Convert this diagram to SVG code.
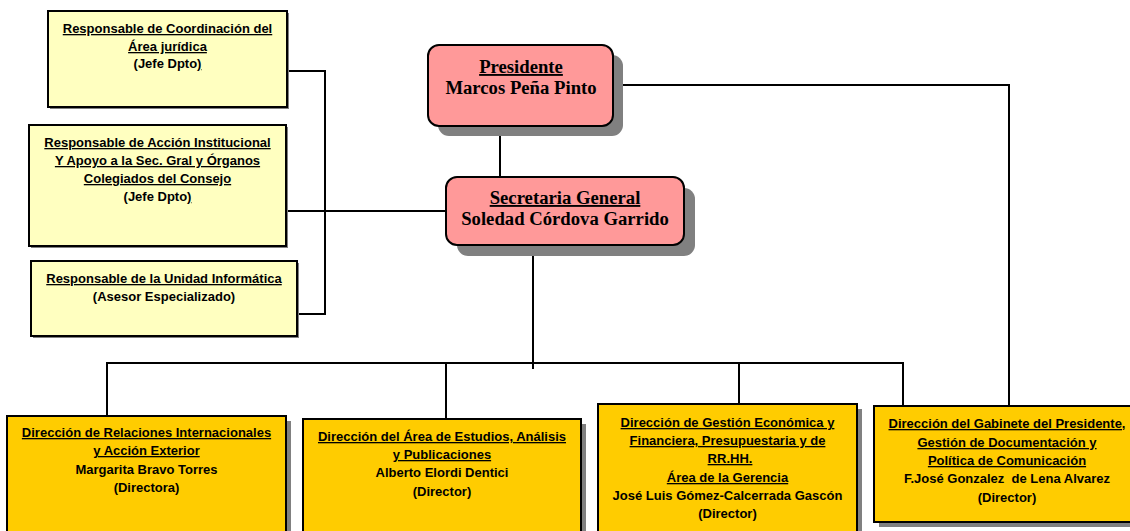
<svg xmlns="http://www.w3.org/2000/svg" width="1130" height="531" viewBox="0 0 1130 531">
<style>
.lt{fill:#FFFFC0;stroke:#000;stroke-width:2}
.gd{fill:#FFCC00;stroke:#000;stroke-width:2}
.pk{fill:#FF9999;stroke:#000;stroke-width:2}
.sh{fill:#808080}
.s{font-family:"Liberation Sans",Arial,sans-serif;font-weight:bold;font-size:13px;fill:#000;text-anchor:middle}
.t{font-family:"Liberation Serif","Times New Roman",serif;font-weight:bold;font-size:18.7px;fill:#000;text-anchor:middle}
.u{text-decoration:underline}
.c{fill:none;stroke:#000;stroke-width:2}
</style>
<rect width="1130" height="531" fill="#fff"/>
<g id="connectors">
<polyline class="c" points="287,71 325,71 325,314 297,314"/>
<line class="c" x1="286" y1="211" x2="446" y2="211"/>
<line class="c" x1="500" y1="126" x2="500" y2="177"/>
<polyline class="c" points="613,85 1009,85 1009,406"/>
<line class="c" x1="533" y1="245" x2="533" y2="369"/>
<line class="c" x1="106" y1="363" x2="904" y2="363"/>
<line class="c" x1="107" y1="363" x2="107" y2="416"/>
<line class="c" x1="446" y1="363" x2="446" y2="419"/>
<line class="c" x1="739" y1="363" x2="739" y2="404"/>
<line class="c" x1="903" y1="363" x2="903" y2="406"/>
</g>
<g id="resp-juridica">
<rect class="sh" x="50" y="13" width="239" height="96"/>
<rect class="lt" x="48" y="11" width="239" height="96"/>
<text class="s u" x="167.5" y="33">Responsable de Coordinación del</text>
<text class="s u" x="167.5" y="51">Área jurídica</text>
<text class="s" x="167.5" y="68">(Jefe Dpto<tspan class="u">)</tspan></text>
</g>
<g id="resp-accion">
<rect class="sh" x="31" y="127" width="257" height="121"/>
<rect class="lt" x="29" y="125" width="257" height="121"/>
<text class="s u" x="157.5" y="147">Responsable de Acción Institucional</text>
<text class="s u" x="157.5" y="165">Y Apoyo a la Sec. Gral y Órganos</text>
<text class="s u" x="157.5" y="183">Colegiados del Consejo</text>
<text class="s" x="157.5" y="201">(Jefe Dpto<tspan class="u">)</tspan></text>
</g>
<g id="resp-informatica">
<rect class="sh" x="33" y="263" width="266" height="75"/>
<rect class="lt" x="31" y="261" width="266" height="75"/>
<text class="s u" x="164" y="283">Responsable de la Unidad Informática</text>
<text class="s" x="164" y="301">(Asesor Especializado)</text>
</g>
<g id="presidente">
<rect class="sh" x="438" y="55" width="185" height="81" rx="11"/>
<rect class="pk" x="428" y="45" width="185" height="81" rx="11"/>
<text class="t u" x="521" y="73">Presidente</text>
<text class="t" x="521" y="94">Marcos Peña Pinto</text>
</g>
<g id="secretaria">
<rect class="sh" x="457" y="188" width="238" height="68" rx="11"/>
<rect class="pk" x="446" y="177" width="238" height="68" rx="11"/>
<text class="t u" x="565" y="204">Secretaria General</text>
<text class="t" x="565" y="225">Soledad Córdova Garrido</text>
</g>
<g id="dir-relaciones">
<rect class="sh" x="12" y="421" width="279" height="130"/>
<rect class="gd" x="7" y="416" width="279" height="130"/>
<text class="s u" x="146.5" y="437">Dirección de Relaciones Internacionales</text>
<text class="s u" x="146.5" y="455">y Acción Exterior</text>
<text class="s" x="146.5" y="474">Margarita Bravo Torres</text>
<text class="s" x="146.5" y="492">(Directora)</text>
</g>
<g id="dir-estudios">
<rect class="sh" x="308" y="424" width="278" height="130"/>
<rect class="gd" x="303" y="419" width="278" height="130"/>
<text class="s u" x="442" y="441">Dirección del Área de Estudios, Análisis</text>
<text class="s u" x="442" y="459">y Publicaciones</text>
<text class="s" x="442" y="477">Alberto Elordi Dentici</text>
<text class="s" x="442" y="496">(Director)</text>
</g>
<g id="dir-gestion">
<rect class="sh" x="603" y="409" width="259" height="140"/>
<rect class="gd" x="598" y="404" width="259" height="140"/>
<text class="s u" x="727.5" y="427">Dirección de Gestión Económica y</text>
<text class="s u" x="727.5" y="445">Financiera, Presupuestaria y de</text>
<text class="s u" x="730" y="463">RR.HH.</text>
<text class="s u" x="727.5" y="482">Área de la Gerencia</text>
<text class="s" x="727.5" y="500">José Luis Gómez-Calcerrada Gascón</text>
<text class="s" x="727.5" y="518">(Director)</text>
</g>
<g id="dir-gabinete">
<rect class="sh" x="879" y="411" width="270" height="116"/>
<rect class="gd" x="874" y="406" width="270" height="116"/>
<text class="s u" x="1007" y="428">Dirección del Gabinete del Presidente,</text>
<text class="s u" x="1007" y="447">Gestión de Documentación y</text>
<text class="s u" x="1007" y="465">Política de Comunicación</text>
<text class="s" x="1007" y="483" xml:space="preserve">F.José Gonzalez  de Lena Alvarez</text>
<text class="s" x="1007" y="502">(Director)</text>
</g>
</svg>
